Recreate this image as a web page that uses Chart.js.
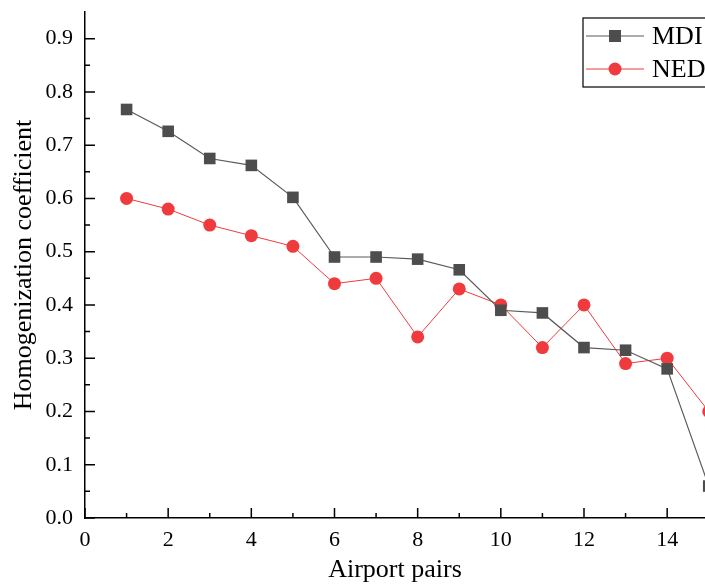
<!DOCTYPE html>
<html>
<head>
<meta charset="utf-8">
<script src="https://cdn.jsdelivr.net/npm/chart.js@4.4.1/dist/chart.umd.min.js"></script>
<style>
  body { margin: 0; background: #fff; }
</style>
</head>
<body>
<canvas id="chart" width="705" height="586"></canvas>
<script>
// values
var pairs = [1, 2, 3, 4, 5, 6, 7, 8, 9, 10, 11, 12, 13, 14, 15];
var mdi = [0.767, 0.726, 0.675, 0.662, 0.602, 0.490, 0.490, 0.486, 0.466, 0.390, 0.385, 0.320, 0.315, 0.280, 0.060];
var ned = [0.600, 0.580, 0.550, 0.530, 0.510, 0.440, 0.450, 0.340, 0.430, 0.400, 0.320, 0.400, 0.290, 0.300, 0.200];
var xMajor = [0, 2, 4, 6, 8, 10, 12, 14];
var xMinor = [1, 3, 5, 7, 9, 11, 13];
var yMajor = [0, 0.1, 0.2, 0.3, 0.4, 0.5, 0.6, 0.7, 0.8, 0.9];
var yMinor = [0.05, 0.15, 0.25, 0.35, 0.45, 0.55, 0.65, 0.75, 0.85];

var serif = "'Liberation Serif', 'Times New Roman', serif";
var mdiColor = "#4d4d4d";
var nedColor = "#ef3b3e";

function toPoints(xs, ys) {
    var pts = [];
    for (var i = 0; i < xs.length; i++) {
        pts.push({ x: xs[i], y: ys[i] });
    }
    return pts;
}

// ticks drawn inside the axes, majors and minors
var insideTicks = {
    id: "insideTicks",
    afterDraw: function (chart) {
        var ctx = chart.ctx;
        var xs = chart.scales.x, ys = chart.scales.y;
        var area = chart.chartArea;
        ctx.save();
        ctx.strokeStyle = "#000";
        ctx.lineWidth = 1.5;
        ctx.beginPath();
        xMajor.forEach(function (v) {
            var p = xs.getPixelForValue(v);
            ctx.moveTo(p, area.bottom); ctx.lineTo(p, area.bottom - 10);
        });
        xMinor.forEach(function (v) {
            var p = xs.getPixelForValue(v);
            ctx.moveTo(p, area.bottom); ctx.lineTo(p, area.bottom - 5);
        });
        yMajor.forEach(function (v) {
            var p = ys.getPixelForValue(v);
            ctx.moveTo(area.left, p); ctx.lineTo(area.left + 10, p);
        });
        yMinor.forEach(function (v) {
            var p = ys.getPixelForValue(v);
            ctx.moveTo(area.left, p); ctx.lineTo(area.left + 5, p);
        });
        ctx.stroke();
        ctx.restore();
    }
};

// boxed legend in the top right corner
var boxLegend = {
    id: "boxLegend",
    afterDraw: function (chart) {
        var ctx = chart.ctx;
        var bx = 583, by = 18, bw = 130, bh = 69;
        ctx.save();
        ctx.fillStyle = "#fff";
        ctx.fillRect(bx, by, bw, bh);
        ctx.strokeStyle = "#000";
        ctx.lineWidth = 1.2;
        ctx.strokeRect(bx, by, bw, bh);
        ctx.font = "26px " + serif;
        ctx.textBaseline = "middle";
        chart.data.datasets.forEach(function (ds, i) {
            var yy = by + 18 + i * 33;
            ctx.strokeStyle = ds.borderColor;
            ctx.lineWidth = 1.2;
            ctx.beginPath();
            ctx.moveTo(bx + 3, yy); ctx.lineTo(bx + 61, yy);
            ctx.stroke();
            ctx.fillStyle = ds.pointBackgroundColor;
            if (ds.pointStyle === "rect") {
                ctx.fillRect(bx + 32 - 6, yy - 6, 12, 12);
            } else {
                ctx.beginPath();
                ctx.arc(bx + 32, yy, 6.5, 0, Math.PI * 2);
                ctx.fill();
            }
            ctx.fillStyle = "#000";
            ctx.fillText(ds.label, bx + 69, yy + 1);
        });
        ctx.restore();
    }
};

var ctx = document.getElementById("chart");
var myChart = new Chart(ctx, {
    type: "line",
    data: {
        datasets: [{
            label: "MDI",
            data: toPoints(pairs, mdi),
            borderColor: "#5a5a5a",
            borderWidth: 1.2,
            pointStyle: "rect",
            pointRadius: 8.2,
            pointBackgroundColor: mdiColor,
            pointBorderColor: mdiColor,
            pointBorderWidth: 0,
            clip: false,
            tension: 0
        }, {
            label: "NED",
            data: toPoints(pairs, ned),
            borderColor: nedColor,
            borderWidth: 1,
            pointStyle: "circle",
            pointRadius: 6.5,
            pointBackgroundColor: nedColor,
            pointBorderColor: nedColor,
            pointBorderWidth: 0,
            clip: false,
            tension: 0
        }]
    },
    options: {
        responsive: false,
        animation: false,
        events: [],
        layout: { autoPadding: false, padding: { top: 12, right: 0, left: 9, bottom: 0 } },
        plugins: {
            legend: { display: false },
            tooltip: { enabled: false }
        },
        scales: {
            x: {
                type: "linear",
                min: 0,
                max: 14.91,
                grid: { display: false, drawTicks: false },
                border: { display: true, color: "#000", width: 1.5 },
                ticks: {
                    stepSize: 2,
                    includeBounds: false,
                    maxRotation: 0,
                    padding: 9,
                    color: "#000",
                    font: { family: serif, size: 22 }
                },
                title: {
                    display: true,
                    text: "Airport pairs",
                    color: "#000",
                    padding: 0,
                    font: { family: serif, size: 26 }
                },
                afterFit: function (scale) {
                    scale.height = 68;
                    scale.paddingLeft = 0;
                    scale.paddingRight = 0;
                }
            },
            y: {
                min: 0,
                max: 0.95,
                grid: { display: false, drawTicks: false },
                border: { display: true, color: "#000", width: 1.5 },
                ticks: {
                    stepSize: 0.1,
                    includeBounds: false,
                    padding: 12,
                    color: "#000",
                    font: { family: serif, size: 22 },
                    callback: function (v) { return Number(v).toFixed(1); }
                },
                title: {
                    display: true,
                    text: "Homogenization coefficient",
                    color: "#000",
                    padding: 0,
                    font: { family: serif, size: 26 }
                },
                afterFit: function (scale) {
                    scale.width = 76;
                    scale.paddingTop = 0;
                    scale.paddingBottom = 0;
                }
            }
        }
    },
    plugins: [insideTicks, boxLegend]
});
</script>
</body>
</html>
